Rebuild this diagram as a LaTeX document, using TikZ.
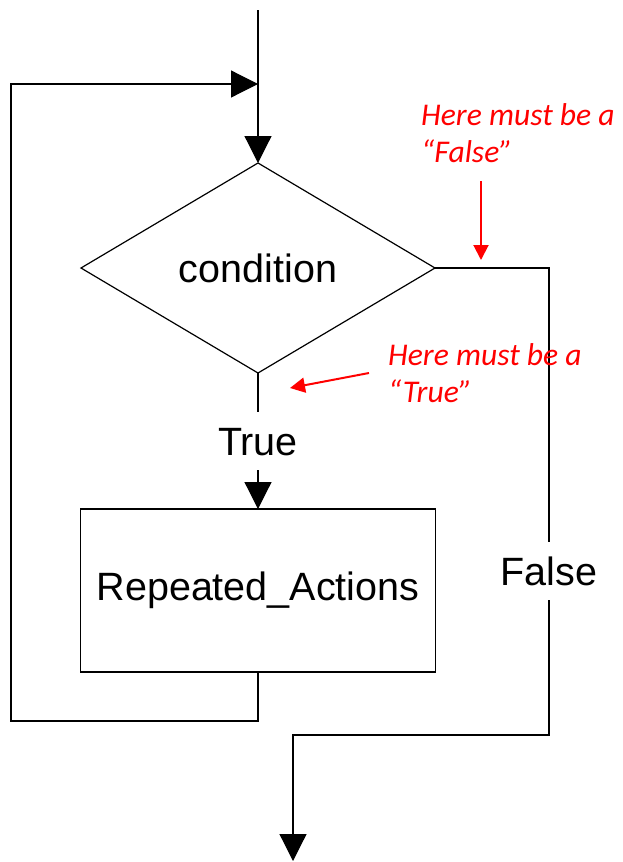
\documentclass[tikz,border=0pt]{standalone}
\usepackage{fontspec}
\setmainfont{Liberation Sans}
\newfontfamily\notefont{Carlito}
\usetikzlibrary{shapes.geometric,arrows.meta}
\definecolor{notered}{RGB}{255,0,0}
\begin{document}
\begin{tikzpicture}[x=1pt,y=-1pt,
  flow/.style={line width=1.2pt,draw=black},
  flowarrow/.style={flow,-{Triangle[length=27pt,width=27pt]}},
  label/.style={font=\fontsize{39.5}{47}\selectfont,inner sep=15pt,text height=28.3pt,text depth=0pt},
  decision/.style={diamond,draw,line width=1.2pt,minimum width=354pt,minimum height=210pt,inner sep=0pt,outer sep=0pt,font=\fontsize{39.5}{47}\selectfont},
  action/.style={rectangle,draw,line width=1.2pt,minimum width=355pt,minimum height=163pt,inner sep=0pt,outer sep=0pt,font=\fontsize{39.5}{47}\selectfont},
  note/.style={text=notered,font=\notefont\itshape\fontsize{31.6}{37}\selectfont,align=left,inner sep=0pt,anchor=base west},
  notearrow/.style={draw=notered,line width=2pt,-{Triangle[length=15pt,width=15pt]}}]
\useasboundingbox (0,0) rectangle (622,862);

% shapes
\node[decision] (cond) at (258,268) {condition};
\node[action] (body) at (258,590.5) {Repeated\_Actions};
\node[label,anchor=base] (truelbl) at (258,455) {True};
\node[label,anchor=base] (falselbl) at (549,585) {False};

% entry and loop-back junction
\coordinate (entry) at (258,10);
\coordinate (join) at (258,84);
\coordinate (loopbot) at (11,721);
\coordinate (looptop) at (11,84);
\coordinate (exitturn) at (293,735);
\coordinate (exit) at (293,861);

% main flow
\draw[flowarrow] (entry) -- (cond.north);
\draw[flow] (cond.south) -- (truelbl.north);
\draw[flowarrow] (truelbl.south) -- (body.north);
\draw[flowarrow] (body.south) |- (loopbot) -- (looptop) -- (join);
\draw[flow] (cond.east) -| (falselbl.north);
\draw[flowarrow] (falselbl.south) |- (exitturn) -- (exit);

% annotations (anchored at the baseline of their last line)
\node[note] (notefalse) at (421,162) {Here must be a\\“False”};
\node[note] (notetrue) at (388,402) {Here must be a\\“True”};
\coordinate (nf1) at (481,181);
\coordinate (nf2) at (481,260);
\coordinate (nt1) at (369,373);
\coordinate (nt2) at (290,388);
\draw[notearrow] (nf1) -- (nf2);
\draw[notearrow] (nt1) -- (nt2);
\end{tikzpicture}
\end{document}
